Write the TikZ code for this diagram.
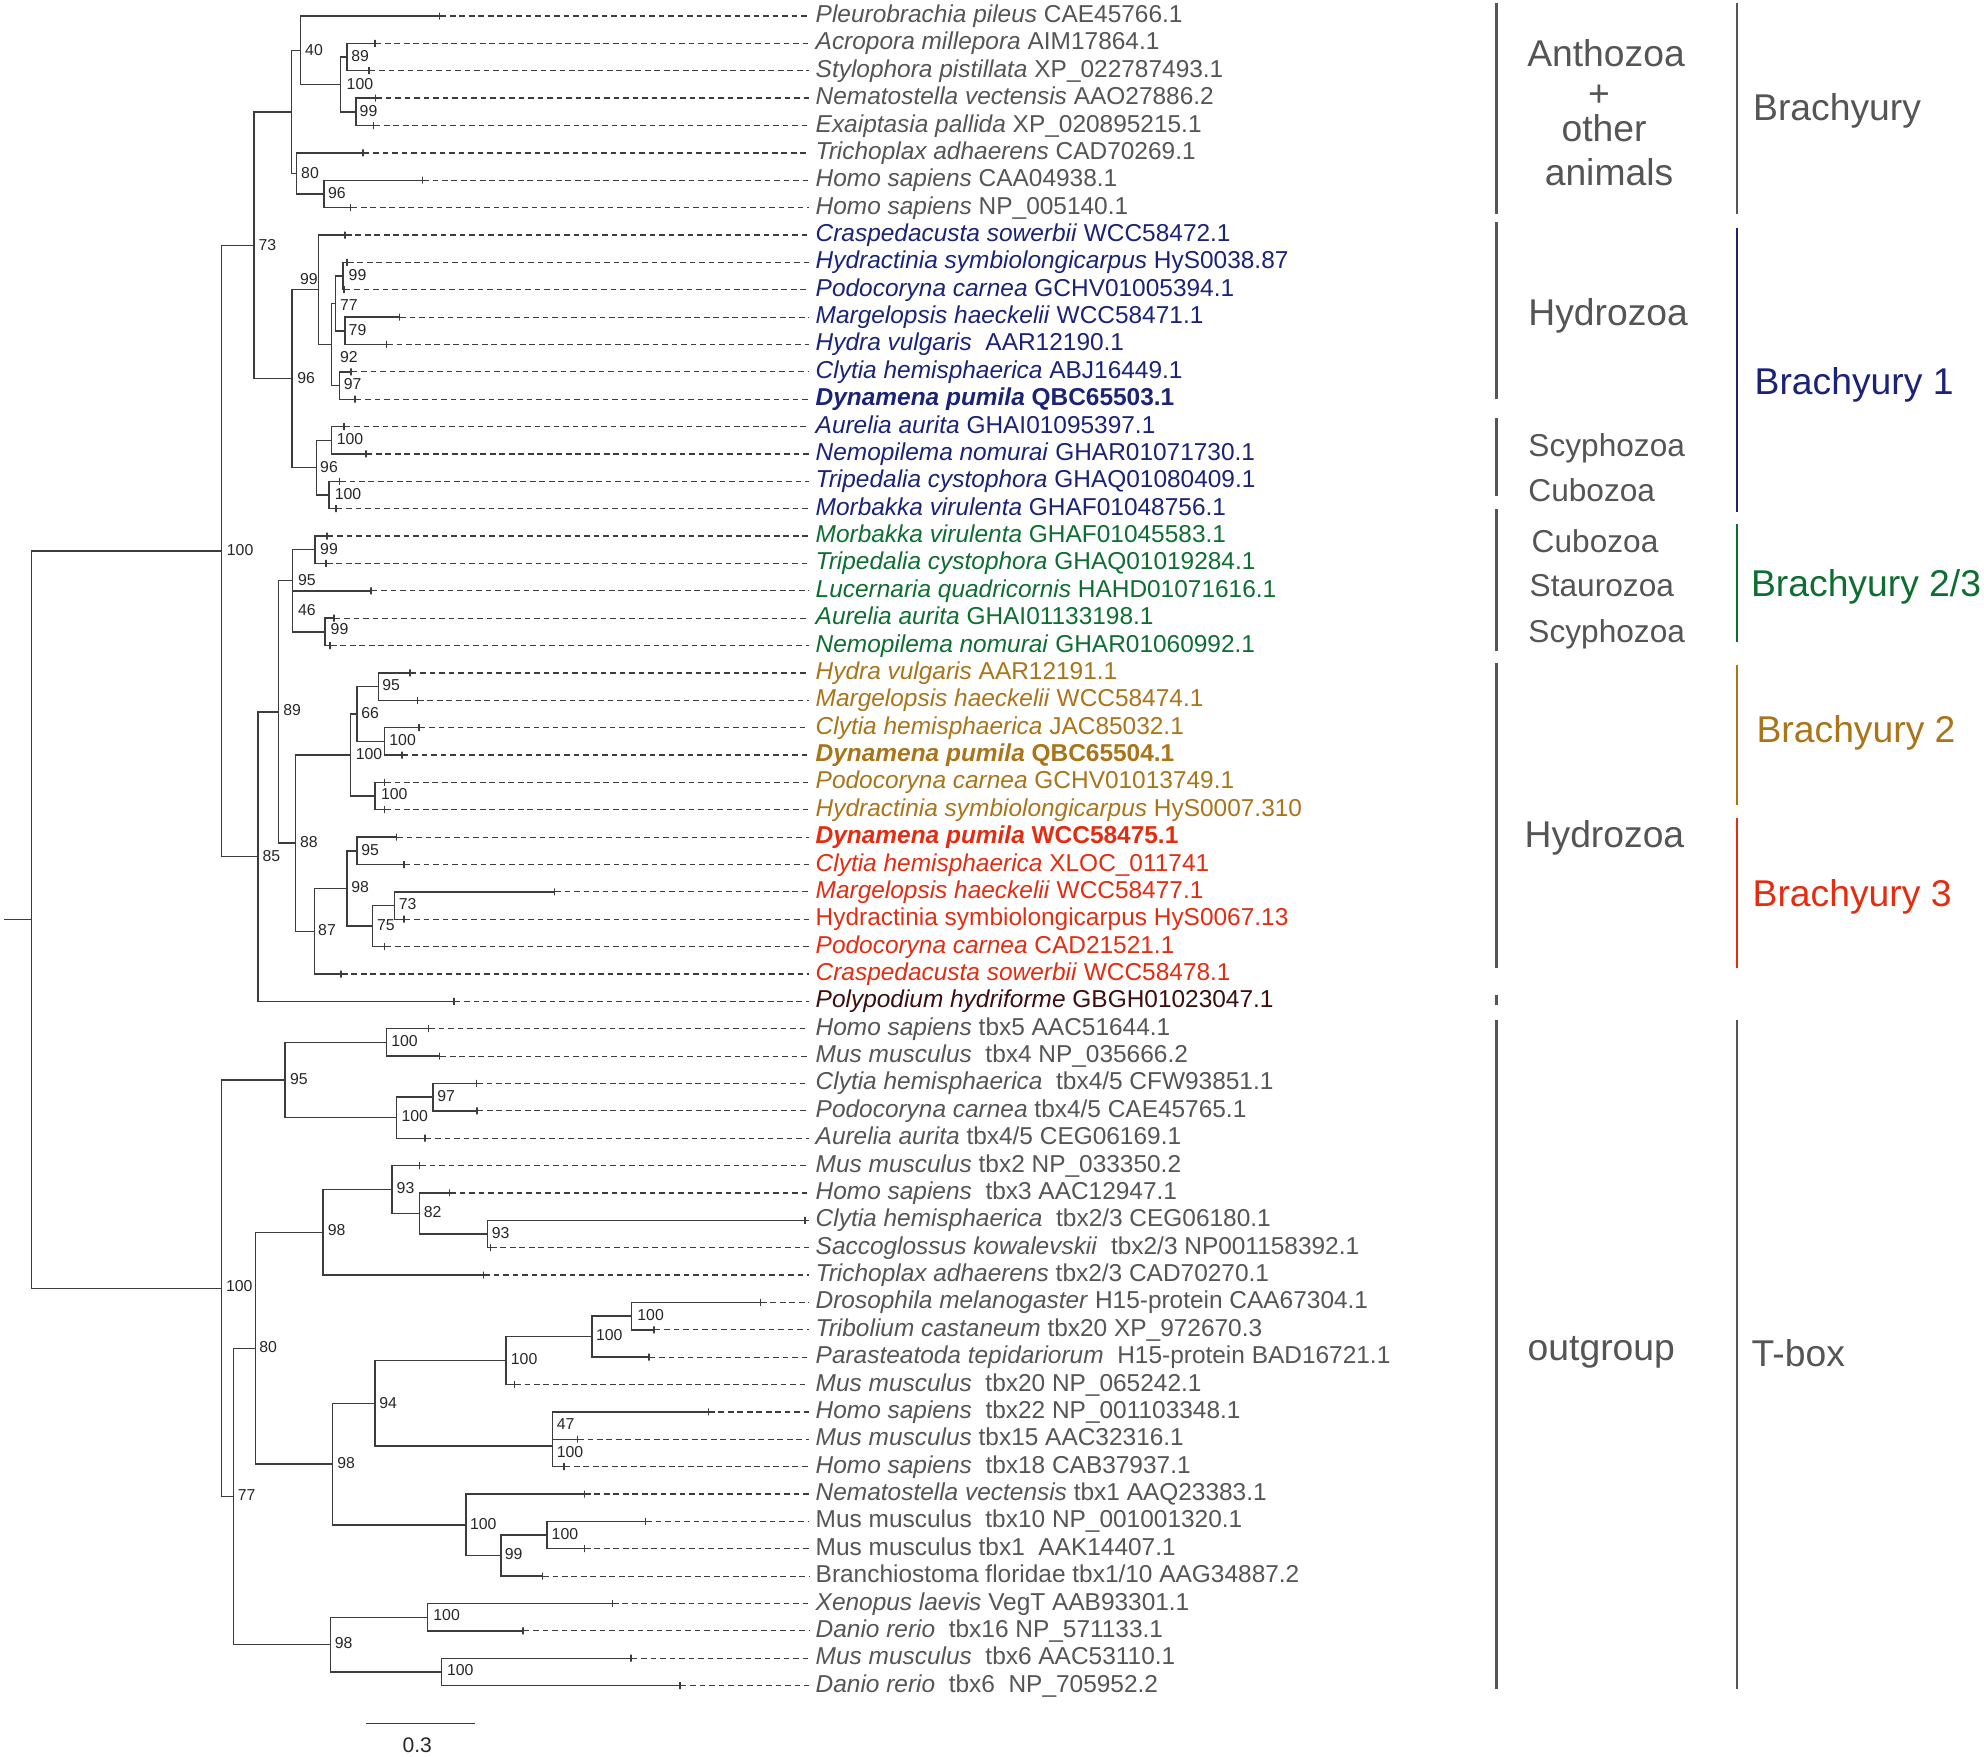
\documentclass[tikz,border=0pt]{standalone}
\usepackage{fontspec}
\setmainfont{Liberation Sans}

\definecolor{treeline}{RGB}{60,60,60}
\definecolor{txtgray}{RGB}{85,85,85}
\definecolor{brblue}{RGB}{26,35,120}
\definecolor{brgreen}{RGB}{14,110,50}
\definecolor{brochre}{RGB}{170,116,24}
\definecolor{brred}{RGB}{228,44,16}
\definecolor{brmaroon}{RGB}{60,14,14}

\begin{document}
\begin{tikzpicture}
    [x=0.01cm, y=-0.01cm,
     branch/.style={draw=treeline, line width=0.4pt},
     leader/.style={draw=treeline, line width=0.35pt, dash pattern=on 1.6pt off 1.1pt},
     tick/.style={draw=treeline, line width=0.4pt, inner sep=0pt, minimum width=0pt, minimum height=0.07cm},
     leaf/.style={anchor=west, inner xsep=0.06cm, inner ysep=0pt, text height=1.7mm, text depth=0.4mm,
                  font=\fontsize{6.95}{8}\selectfont, text=txtgray},
     boot/.style={anchor=west, inner sep=0pt, text height=1.15mm, text depth=0pt,
                  font=\fontsize{4.5}{5}\selectfont, text=black!85},
     group/.style={inner sep=0pt, text height=2.68mm, text depth=0pt,
                   font=\fontsize{10.6}{12}\selectfont, text=txtgray},
     subgroup/.style={group, anchor=west, text height=2.27mm, font=\fontsize{9}{10}\selectfont},
     bar/.style={line width=0.6pt}]

    \useasboundingbox (0,0) rectangle (1984,1756);

    % root:
    \coordinate (stub) at (4, 919.5);
    \coordinate (root) at (31.6, 919.5);

    % Brachyury internal nodes:
    \coordinate (bra) at (221.4, 550.9);
    \coordinate (a73) at (253.9, 245.3);
    \coordinate (a00) at (291.4, 111.8);
    \coordinate (a40) at (300.5, 50.2);
    \coordinate (a100) at (340.6, 84.4);
    \coordinate (a89) at (347.2, 57.0);
    \coordinate (a99) at (355.9, 111.8);
    \coordinate (a80) at (296.6, 173.4);
    \coordinate (a96) at (324.2, 193.9);
    \coordinate (b96) at (291.8, 378.7);
    \coordinate (b99) at (318.7, 289.7);
    \coordinate (b92) at (331.4, 344.5);
    \coordinate (b77) at (335.3, 303.4);
    \coordinate (b99h) at (343.2, 276.0);
    \coordinate (b79) at (344.8, 330.8);
    \coordinate (b97) at (339.3, 385.5);
    \coordinate (b96s) at (316.3, 467.6);
    \coordinate (b100a) at (331.4, 440.3);
    \coordinate (b100b) at (329.0, 495.0);
    \coordinate (c85) at (257.8, 856.6);
    \coordinate (c89) at (278.5, 711.8);
    \coordinate (c95) at (292.7, 580.5);
    \coordinate (c99) at (315.0, 549.7);
    \coordinate (c46) at (292.7, 611.3);
    \coordinate (c99b) at (325.0, 631.8);
    \coordinate (c88) at (295.4, 843.1);
    \coordinate (d100) at (350.7, 755.0);
    \coordinate (d66) at (357.1, 714.0);
    \coordinate (d95) at (378.4, 686.6);
    \coordinate (d100b) at (384.3, 741.3);
    \coordinate (d100c) at (374.8, 796.1);
    \coordinate (e87) at (314.4, 931.2);
    \coordinate (e98) at (346.8, 888.4);
    \coordinate (e95) at (357.1, 850.8);
    \coordinate (e75) at (372.5, 926.1);
    \coordinate (e73) at (394.2, 905.5);

    % T-box internal nodes:
    \coordinate (tbx) at (221.5, 1288.2);
    \coordinate (f95) at (284.8, 1080.0);
    \coordinate (f100) at (386.2, 1042.4);
    \coordinate (f100b) at (396.4, 1117.7);
    \coordinate (f97) at (433.0, 1097.1);
    \coordinate (g77) at (233.7, 1496.3);
    \coordinate (g80) at (255.3, 1348.2);
    \coordinate (h98) at (323.2, 1232.3);
    \coordinate (h93) at (392.0, 1189.5);
    \coordinate (h82) at (419.6, 1213.5);
    \coordinate (h93b) at (487.5, 1234.0);
    \coordinate (i98) at (332.7, 1464.1);
    \coordinate (i94) at (375.0, 1403.3);
    \coordinate (i100a) at (506.1, 1360.6);
    \coordinate (i100b) at (591.8, 1336.6);
    \coordinate (i100c) at (631.6, 1316.1);
    \coordinate (i47) at (552.5, 1446.0);
    \coordinate (i100) at (465.8, 1524.8);
    \coordinate (i99) at (501.0, 1555.6);
    \coordinate (i100e) at (547.0, 1535.0);
    \coordinate (j98) at (330.6, 1644.5);
    \coordinate (j100) at (427.6, 1617.2);
    \coordinate (j100b) at (441.3, 1671.9);

    % leaf ticks:
    \node (t1) at (439.7, 16.0) [tick] {};
    \node (t2) at (374.8, 43.4) [tick] {};
    \node (t3) at (368.9, 70.7) [tick] {};
    \node (t4) at (375.6, 98.1) [tick] {};
    \node (t5) at (373.7, 125.5) [tick] {};
    \node (t6) at (363.0, 152.9) [tick] {};
    \node (t7) at (422.3, 180.2) [tick] {};
    \node (t8) at (350.7, 207.6) [tick] {};
    \node (t9) at (345.2, 235.0) [tick] {};
    \node (t10) at (347.2, 262.3) [tick] {};
    \node (t11) at (344.0, 289.7) [tick] {};
    \node (t12) at (399.4, 317.1) [tick] {};
    \node (t13) at (386.3, 344.4) [tick] {};
    \node (t14) at (351.1, 371.8) [tick] {};
    \node (t15) at (355.1, 399.2) [tick] {};
    \node (t16) at (344.0, 426.6) [tick] {};
    \node (t17) at (365.8, 453.9) [tick] {};
    \node (t18) at (339.3, 481.3) [tick] {};
    \node (t19) at (336.1, 508.7) [tick] {};
    \node (t20) at (327.0, 536.0) [tick] {};
    \node (t21) at (326.2, 563.4) [tick] {};
    \node (t22) at (370.9, 590.8) [tick] {};
    \node (t23) at (334.1, 618.1) [tick] {};
    \node (t24) at (330.2, 645.5) [tick] {};
    \node (t25) at (410.0, 672.9) [tick] {};
    \node (t26) at (417.2, 700.3) [tick] {};
    \node (t27) at (419.1, 727.6) [tick] {};
    \node (t28) at (402.1, 755.0) [tick] {};
    \node (t29) at (384.3, 782.4) [tick] {};
    \node (t30) at (384.3, 809.7) [tick] {};
    \node (t31) at (396.6, 837.1) [tick] {};
    \node (t32) at (404.1, 864.5) [tick] {};
    \node (t33) at (554.4, 891.8) [tick] {};
    \node (t34) at (404.1, 919.2) [tick] {};
    \node (t35) at (384.7, 946.6) [tick] {};
    \node (t36) at (341.2, 974.0) [tick] {};
    \node (t37) at (453.9, 1001.3) [tick] {};
    \node (t38) at (428.6, 1028.7) [tick] {};
    \node (t39) at (439.7, 1056.1) [tick] {};
    \node (t40) at (476.3, 1083.4) [tick] {};
    \node (t41) at (476.8, 1110.8) [tick] {};
    \node (t42) at (425.0, 1138.2) [tick] {};
    \node (t43) at (419.6, 1165.5) [tick] {};
    \node (t44) at (449.6, 1192.9) [tick] {};
    \node (t45) at (805.0, 1220.3) [tick] {};
    \node (t46) at (490.2, 1247.7) [tick] {};
    \node (t47) at (483.5, 1275.0) [tick] {};
    \node (t48) at (760.2, 1302.4) [tick] {};
    \node (t49) at (654.0, 1329.8) [tick] {};
    \node (t50) at (649.0, 1357.1) [tick] {};
    \node (t51) at (514.3, 1384.5) [tick] {};
    \node (t52) at (708.2, 1411.9) [tick] {};
    \node (t53) at (577.3, 1439.2) [tick] {};
    \node (t54) at (563.8, 1466.6) [tick] {};
    \node (t55) at (584.2, 1494.0) [tick] {};
    \node (t56) at (645.4, 1521.3) [tick] {};
    \node (t57) at (584.2, 1548.7) [tick] {};
    \node (t58) at (542.3, 1576.1) [tick] {};
    \node (t59) at (612.2, 1603.5) [tick] {};
    \node (t60) at (523.0, 1630.8) [tick] {};
    \node (t61) at (631.1, 1658.2) [tick] {};
    \node (t62) at (680.1, 1685.6) [tick] {};

    % branches:
    \draw [branch] (stub) -- (root);
    \draw [branch] (root) |- (bra) (root) |- (tbx);
    \draw [branch] (bra) |- (a73) (bra) |- (c85);
    \draw [branch] (a73) |- (a00) (a73) |- (b96);
    \draw [branch] (a00) |- (a40) (a00) |- (a80);
    \draw [branch] (a40) |- (t1) (a40) |- (a100);
    \draw [branch] (a100) |- (a89) (a100) |- (a99);
    \draw [branch] (a89) |- (t2) (a89) |- (t3);
    \draw [branch] (a99) |- (t4) (a99) |- (t5);
    \draw [branch] (a80) |- (t6) (a80) |- (a96);
    \draw [branch] (a96) |- (t7) (a96) |- (t8);
    \draw [branch] (b96) |- (b99) (b96) |- (b96s);
    \draw [branch] (b99) |- (t9) (b99) |- (b92);
    \draw [branch] (b92) |- (b77) (b92) |- (b97);
    \draw [branch] (b77) |- (b99h) (b77) |- (b79);
    \draw [branch] (b99h) |- (t10) (b99h) |- (t11);
    \draw [branch] (b79) |- (t12) (b79) |- (t13);
    \draw [branch] (b97) |- (t14) (b97) |- (t15);
    \draw [branch] (b96s) |- (b100a) (b96s) |- (b100b);
    \draw [branch] (b100a) |- (t16) (b100a) |- (t17);
    \draw [branch] (b100b) |- (t18) (b100b) |- (t19);
    \draw [branch] (c85) |- (c89) (c85) |- (t37);
    \draw [branch] (c89) |- (c95) (c89) |- (c88);
    \draw [branch] (c95) |- (c99) (c95) |- (c46);
    \draw [branch] (c99) |- (t20) (c99) |- (t21);
    \draw [branch] (c46) |- (t22) (c46) |- (c99b);
    \draw [branch] (c99b) |- (t23) (c99b) |- (t24);
    \draw [branch] (c88) |- (d100) (c88) |- (e87);
    \draw [branch] (d100) |- (d66) (d100) |- (d100c);
    \draw [branch] (d66) |- (d95) (d66) |- (d100b);
    \draw [branch] (d95) |- (t25) (d95) |- (t26);
    \draw [branch] (d100b) |- (t27) (d100b) |- (t28);
    \draw [branch] (d100c) |- (t29) (d100c) |- (t30);
    \draw [branch] (e87) |- (e98) (e87) |- (t36);
    \draw [branch] (e98) |- (e95) (e98) |- (e75);
    \draw [branch] (e95) |- (t31) (e95) |- (t32);
    \draw [branch] (e75) |- (e73) (e75) |- (t35);
    \draw [branch] (e73) |- (t33) (e73) |- (t34);
    \draw [branch] (tbx) |- (f95) (tbx) |- (g77);
    \draw [branch] (f95) |- (f100) (f95) |- (f100b);
    \draw [branch] (f100) |- (t38) (f100) |- (t39);
    \draw [branch] (f100b) |- (f97) (f100b) |- (t42);
    \draw [branch] (f97) |- (t40) (f97) |- (t41);
    \draw [branch] (g77) |- (g80) (g77) |- (j98);
    \draw [branch] (g80) |- (h98) (g80) |- (i98);
    \draw [branch] (h98) |- (h93) (h98) |- (t47);
    \draw [branch] (h93) |- (t43) (h93) |- (h82);
    \draw [branch] (h82) |- (t44) (h82) |- (h93b);
    \draw [branch] (h93b) |- (t45) (h93b) |- (t46);
    \draw [branch] (i98) |- (i94) (i98) |- (i100);
    \draw [branch] (i94) |- (i100a) (i94) |- (i47);
    \draw [branch] (i100a) |- (i100b) (i100a) |- (t51);
    \draw [branch] (i100b) |- (i100c) (i100b) |- (t50);
    \draw [branch] (i100c) |- (t48) (i100c) |- (t49);
    \draw [branch] (i47) |- (t52) (i47) |- (t53) (i47) |- (t54);
    \draw [branch] (i100) |- (t55) (i100) |- (i99);
    \draw [branch] (i99) |- (i100e) (i99) |- (t58);
    \draw [branch] (i100e) |- (t56) (i100e) |- (t57);
    \draw [branch] (j98) |- (j100) (j98) |- (j100b);
    \draw [branch] (j100) |- (t59) (j100) |- (t60);
    \draw [branch] (j100b) |- (t61) (j100b) |- (t62);

    % bootstrap values:
    \node (s1) at (304.5, 49.3) [boot] {40};
    \node (s2) at (350.7, 56.0) [boot] {89};
    \node (s3) at (346.0, 83.3) [boot] {100};
    \node (s4) at (359.0, 110.7) [boot] {99};
    \node (s5) at (300.5, 172.3) [boot] {80};
    \node (s6) at (327.4, 192.7) [boot] {96};
    \node (s7) at (257.8, 245.0) [boot] {73};
    \node (s8) at (299.3, 278.3) [boot] {99};
    \node (s9) at (348.0, 274.7) [boot] {99};
    \node (s10) at (339.3, 304.3) [boot] {77};
    \node (s11) at (348.0, 329.3) [boot] {79};
    \node (s12) at (339.3, 356.7) [boot] {92};
    \node (s13) at (343.2, 383.7) [boot] {97};
    \node (s14) at (296.6, 377.3) [boot] {96};
    \node (s15) at (336.1, 439.0) [boot] {100};
    \node (s16) at (319.5, 466.7) [boot] {96};
    \node (s17) at (334.1, 493.3) [boot] {100};
    \node (s18) at (226.2, 549.3) [boot] {100};
    \node (s19) at (319.5, 548.3) [boot] {99};
    \node (s20) at (297.4, 580.0) [boot] {95};
    \node (s21) at (297.4, 610.0) [boot] {46};
    \node (s22) at (330.0, 629.0) [boot] {99};
    \node (s23) at (381.6, 684.3) [boot] {95};
    \node (s24) at (282.7, 710.0) [boot] {89};
    \node (s25) at (360.6, 712.3) [boot] {66};
    \node (s26) at (388.7, 739.3) [boot] {100};
    \node (s27) at (355.1, 754.0) [boot] {100};
    \node (s28) at (380.4, 794.0) [boot] {100};
    \node (s29) at (299.3, 841.7) [boot] {88};
    \node (s30) at (261.8, 855.7) [boot] {85};
    \node (s31) at (360.6, 849.3) [boot] {95};
    \node (s32) at (350.7, 886.7) [boot] {98};
    \node (s33) at (398.2, 904.0) [boot] {73};
    \node (s34) at (376.4, 925.0) [boot] {75};
    \node (s35) at (317.5, 930.0) [boot] {87};
    \node (s36) at (225.4, 1285.7) [boot] {100};
    \node (s37) at (390.6, 1040.7) [boot] {100};
    \node (s38) at (289.3, 1078.3) [boot] {95};
    \node (s39) at (436.6, 1095.7) [boot] {97};
    \node (s40) at (400.9, 1116.0) [boot] {100};
    \node (s41) at (396.0, 1187.3) [boot] {93};
    \node (s42) at (423.2, 1211.7) [boot] {82};
    \node (s43) at (327.2, 1230.0) [boot] {98};
    \node (s44) at (491.1, 1232.3) [boot] {93};
    \node (s45) at (258.7, 1346.7) [boot] {80};
    \node (s46) at (636.7, 1314.3) [boot] {100};
    \node (s47) at (595.4, 1334.3) [boot] {100};
    \node (s48) at (510.2, 1359.0) [boot] {100};
    \node (s49) at (378.6, 1402.7) [boot] {94};
    \node (s50) at (556.1, 1423.3) [boot] {47};
    \node (s51) at (556.1, 1451.7) [boot] {100};
    \node (s52) at (336.7, 1462.3) [boot] {98};
    \node (s53) at (237.2, 1495.0) [boot] {77};
    \node (s54) at (469.4, 1523.3) [boot] {100};
    \node (s55) at (551.0, 1533.3) [boot] {100};
    \node (s56) at (504.1, 1553.3) [boot] {99};
    \node (s57) at (432.7, 1615.0) [boot] {100};
    \node (s58) at (334.2, 1642.7) [boot] {98};
    \node (s59) at (446.4, 1669.3) [boot] {100};

    % leaf labels:
    \node (l1) at (809, 16.0) [leaf] {\textit{Pleurobrachia pileus} CAE45766.1};
    \node (l2) at (809, 43.4) [leaf] {\textit{Acropora millepora} AIM17864.1};
    \node (l3) at (809, 70.7) [leaf] {\textit{Stylophora pistillata} XP\_022787493.1};
    \node (l4) at (809, 98.1) [leaf] {\textit{Nematostella vectensis} AAO27886.2};
    \node (l5) at (809, 125.5) [leaf] {\textit{Exaiptasia pallida} XP\_020895215.1};
    \node (l6) at (809, 152.9) [leaf] {\textit{Trichoplax adhaerens} CAD70269.1};
    \node (l7) at (809, 180.2) [leaf] {\textit{Homo sapiens} CAA04938.1};
    \node (l8) at (809, 207.6) [leaf] {\textit{Homo sapiens} NP\_005140.1};
    \node (l9) at (809, 235.0) [leaf, text=brblue] {\textit{Craspedacusta sowerbii} WCC58472.1};
    \node (l10) at (809, 262.3) [leaf, text=brblue] {\textit{Hydractinia symbiolongicarpus} HyS0038.87};
    \node (l11) at (809, 289.7) [leaf, text=brblue] {\textit{Podocoryna carnea} GCHV01005394.1};
    \node (l12) at (809, 317.1) [leaf, text=brblue] {\textit{Margelopsis haeckelii} WCC58471.1};
    \node (l13) at (809, 344.4) [leaf, text=brblue] {\textit{Hydra vulgaris}\ \ AAR12190.1};
    \node (l14) at (809, 371.8) [leaf, text=brblue] {\textit{Clytia hemisphaerica} ABJ16449.1};
    \node (l15) at (809, 399.2) [leaf, text=brblue] {\textbf{\textit{Dynamena pumila} QBC65503.1}};
    \node (l16) at (809, 426.6) [leaf, text=brblue] {\textit{Aurelia aurita} GHAI01095397.1};
    \node (l17) at (809, 453.9) [leaf, text=brblue] {\textit{Nemopilema nomurai} GHAR01071730.1};
    \node (l18) at (809, 481.3) [leaf, text=brblue] {\textit{Tripedalia cystophora} GHAQ01080409.1};
    \node (l19) at (809, 508.7) [leaf, text=brblue] {\textit{Morbakka virulenta} GHAF01048756.1};
    \node (l20) at (809, 536.0) [leaf, text=brgreen] {\textit{Morbakka virulenta} GHAF01045583.1};
    \node (l21) at (809, 563.4) [leaf, text=brgreen] {\textit{Tripedalia cystophora} GHAQ01019284.1};
    \node (l22) at (809, 590.8) [leaf, text=brgreen] {\textit{Lucernaria quadricornis} HAHD01071616.1};
    \node (l23) at (809, 618.1) [leaf, text=brgreen] {\textit{Aurelia aurita} GHAI01133198.1};
    \node (l24) at (809, 645.5) [leaf, text=brgreen] {\textit{Nemopilema nomurai} GHAR01060992.1};
    \node (l25) at (809, 672.9) [leaf, text=brochre] {\textit{Hydra vulgaris} AAR12191.1};
    \node (l26) at (809, 700.3) [leaf, text=brochre] {\textit{Margelopsis haeckelii} WCC58474.1};
    \node (l27) at (809, 727.6) [leaf, text=brochre] {\textit{Clytia hemisphaerica} JAC85032.1};
    \node (l28) at (809, 755.0) [leaf, text=brochre] {\textbf{\textit{Dynamena pumila} QBC65504.1}};
    \node (l29) at (809, 782.4) [leaf, text=brochre] {\textit{Podocoryna carnea} GCHV01013749.1};
    \node (l30) at (809, 809.7) [leaf, text=brochre] {\textit{Hydractinia symbiolongicarpus} HyS0007.310};
    \node (l31) at (809, 837.1) [leaf, text=brred] {\textbf{\textit{Dynamena pumila} WCC58475.1}};
    \node (l32) at (809, 864.5) [leaf, text=brred] {\textit{Clytia hemisphaerica} XLOC\_011741};
    \node (l33) at (809, 891.8) [leaf, text=brred] {\textit{Margelopsis haeckelii} WCC58477.1};
    \node (l34) at (809, 919.2) [leaf, text=brred] {Hydractinia symbiolongicarpus HyS0067.13};
    \node (l35) at (809, 946.6) [leaf, text=brred] {\textit{Podocoryna carnea} CAD21521.1};
    \node (l36) at (809, 974.0) [leaf, text=brred] {\textit{Craspedacusta sowerbii} WCC58478.1};
    \node (l37) at (809, 1001.3) [leaf, text=brmaroon] {\textit{Polypodium hydriforme} GBGH01023047.1};
    \node (l38) at (809, 1028.7) [leaf] {\textit{Homo sapiens} tbx5 AAC51644.1};
    \node (l39) at (809, 1056.1) [leaf] {\textit{Mus musculus}\ \ tbx4 NP\_035666.2};
    \node (l40) at (809, 1083.4) [leaf] {\textit{Clytia hemisphaerica}\ \ tbx4/5 CFW93851.1};
    \node (l41) at (809, 1110.8) [leaf] {\textit{Podocoryna carnea} tbx4/5 CAE45765.1};
    \node (l42) at (809, 1138.2) [leaf] {\textit{Aurelia aurita} tbx4/5 CEG06169.1};
    \node (l43) at (809, 1165.5) [leaf] {\textit{Mus musculus} tbx2 NP\_033350.2};
    \node (l44) at (809, 1192.9) [leaf] {\textit{Homo sapiens}\ \ tbx3 AAC12947.1};
    \node (l45) at (809, 1220.3) [leaf] {\textit{Clytia hemisphaerica}\ \ tbx2/3 CEG06180.1};
    \node (l46) at (809, 1247.7) [leaf] {\textit{Saccoglossus kowalevskii}\ \ tbx2/3 NP001158392.1};
    \node (l47) at (809, 1275.0) [leaf] {\textit{Trichoplax adhaerens} tbx2/3 CAD70270.1};
    \node (l48) at (809, 1302.4) [leaf] {\textit{Drosophila melanogaster} H15-protein CAA67304.1};
    \node (l49) at (809, 1329.8) [leaf] {\textit{Tribolium castaneum} tbx20 XP\_972670.3};
    \node (l50) at (809, 1357.1) [leaf] {\textit{Parasteatoda tepidariorum}\ \ H15-protein BAD16721.1};
    \node (l51) at (809, 1384.5) [leaf] {\textit{Mus musculus}\ \ tbx20 NP\_065242.1};
    \node (l52) at (809, 1411.9) [leaf] {\textit{Homo sapiens}\ \ tbx22 NP\_001103348.1};
    \node (l53) at (809, 1439.2) [leaf] {\textit{Mus musculus} tbx15 AAC32316.1};
    \node (l54) at (809, 1466.6) [leaf] {\textit{Homo sapiens}\ \ tbx18 CAB37937.1};
    \node (l55) at (809, 1494.0) [leaf] {\textit{Nematostella vectensis} tbx1 AAQ23383.1};
    \node (l56) at (809, 1521.3) [leaf] {Mus musculus\ \ tbx10 NP\_001001320.1};
    \node (l57) at (809, 1548.7) [leaf] {Mus musculus tbx1\ \ AAK14407.1};
    \node (l58) at (809, 1576.1) [leaf] {Branchiostoma floridae tbx1/10 AAG34887.2};
    \node (l59) at (809, 1603.5) [leaf] {\textit{Xenopus laevis} VegT AAB93301.1};
    \node (l60) at (809, 1630.8) [leaf] {\textit{Danio rerio}\ \ tbx16 NP\_571133.1};
    \node (l61) at (809, 1658.2) [leaf] {\textit{Mus musculus}\ \ tbx6 AAC53110.1};
    \node (l62) at (809, 1685.6) [leaf] {\textit{Danio rerio}\ \ tbx6\ \ NP\_705952.2};

    % dashed leaders from ticks to labels:
    \foreach \i in {1,...,62}
      \draw [leader] (t\i) -- (l\i);

    % scale bar:
    \coordinate (sbl) at (366.3, 1723.3);
    \coordinate (sbr) at (474.5, 1723.3);
    \draw [branch] (sbl) -- (sbr);
    \node (sblabel) at (417.3, 1745) [inner sep=0pt, font=\fontsize{6}{7}\selectfont, text=black!85] {0.3};

    % taxon column:
    \draw [bar, txtgray] (1496.5, 3.2) -- (1496.5, 213.6);
    \draw [bar, txtgray] (1496.5, 222.0) -- (1496.5, 398.6);
    \draw [bar, txtgray] (1496.5, 417.7) -- (1496.5, 496.2);
    \draw [bar, txtgray] (1496.5, 509.0) -- (1496.5, 650.5);
    \draw [bar, txtgray] (1496.5, 663.3) -- (1496.5, 968.0);
    \draw [bar, txtgray] (1496.5, 995.0) -- (1496.5, 1005.0);
    \draw [bar, txtgray] (1496.5, 1020.0) -- (1496.5, 1689.0);
    \node (anth) at (1606, 53.0) [group] {Anthozoa};
    \node (plus) at (1599, 93.0) [group] {+};
    \node (other) at (1604, 127.6) [group] {other};
    \node (anim) at (1609, 172.0) [group] {animals};
    \node (hyd1) at (1527.7, 312.5) [group, anchor=west] {Hydrozoa};
    \node (scy1) at (1527.7, 445.0) [subgroup] {Scyphozoa};
    \node (cub1) at (1527.7, 490.0) [subgroup] {Cubozoa};
    \node (cub2) at (1531.0, 540.8) [subgroup] {Cubozoa};
    \node (sta) at (1529.0, 585.5) [subgroup] {Staurozoa};
    \node (scy2) at (1527.7, 631.4) [subgroup] {Scyphozoa};
    \node (hyd2) at (1524.0, 834.2) [group, anchor=west] {Hydrozoa};
    \node (outg) at (1527.0, 1347.5) [group, anchor=west] {outgroup};

    % gene family column:
    \draw [bar, txtgray] (1737, 3.2) -- (1737, 213.6);
    \draw [bar, brblue] (1737, 228.3) -- (1737, 512.1);
    \draw [bar, brgreen] (1737, 524.2) -- (1737, 642.2);
    \draw [bar, brochre] (1737, 664.5) -- (1737, 804.8);
    \draw [bar, brred] (1737, 817.6) -- (1737, 967.5);
    \draw [bar, txtgray] (1737, 1020.0) -- (1737, 1689.0);
    \node (fam0) at (1752.5, 107.0) [group, anchor=west] {Brachyury};
    \node (fam1) at (1754.0, 380.7) [group, anchor=west, text=brblue] {Brachyury 1};
    \node (fam23) at (1750.4, 583.5) [group, anchor=west, text=brgreen] {Brachyury 2/3};
    \node (fam2) at (1755.9, 729.0) [group, anchor=west, text=brochre] {Brachyury 2};
    \node (fam3) at (1752.0, 892.9) [group, anchor=west, text=brred] {Brachyury 3};
    \node (famt) at (1751.0, 1352.6) [group, anchor=west] {T-box};

  \end{tikzpicture}
\end{document}
